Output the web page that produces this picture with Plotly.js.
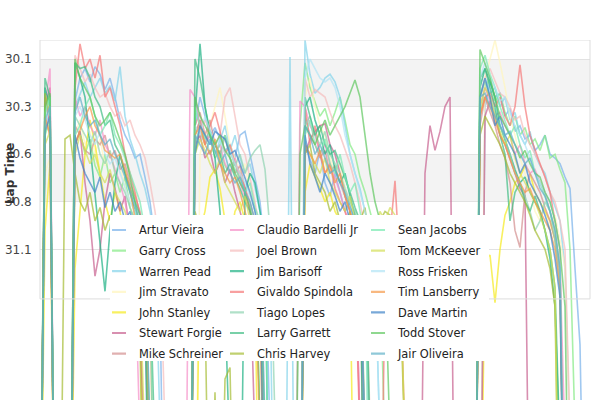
<!DOCTYPE html>
<html>
<head>
<meta charset="utf-8">
<script src="https://cdn.plot.ly/plotly-3.0.1.min.js"></script>
<style>
  html, body { margin: 0; padding: 0; background: #fff; }
  #plotly { width: 600px; height: 400px; }
</style>
</head>
<body>
<div id="plotly"></div>
<script>
// lap index along the x axis
var laps = [0,1,2,3,4,5,6,7,8,9,10,11,12,13,14,15,16,17,18,19,20,21,22,23,24,25,26,27,28,29,
  30,31,32,33,34,35,36,37,38,39,40,41,42,43,44,45,46,47,48,49,50,51,52,53,54,55,56,57,58,59,
  60,61,62,63,64,65,66,67,68,69,70,71,72,73,74,75,76,77,78,79,80,81,82,83,84,85,86,87,88,89,
  90,91,92,93,94,95,96,97,98,99,100,101,102,103,104,105,106,107,108,109];

// lap times per driver (slow laps are far below the visible range)
var arturVieira = [33,30.45,30.38,33,33,33,33,30.32,30.2,30.15,
  30.22,30.14,30.18,30.26,30.2,30.3,30.42,30.5,30.55,30.62,
  30.6,30.72,30.85,31.05,31.4,33,33,33,33,33,
  33,30.45,30.3,30.4,30.5,30.46,30.52,30.58,30.55,30.62,
  30.5,30.48,30.6,30.72,30.85,31.1,33,33,33,33,
  33,33,33,30.55,30.62,30.7,30.58,30.75,30.82,30.7,
  30.8,30.9,30.85,30.98,31.1,31.3,33,33,33,33,
  33,33,33,33,33,33,33,33,33,33,
  33,33,33,33,33,33,33,33,33,30.35,
  30.22,30.3,30.28,30.4,30.36,30.48,30.45,30.52,30.5,30.58,
  30.55,30.5,30.6,30.62,30.65,30.72,30.78,31.2,31.6,33];
var garryCross = [33,30.5,30.42,33,33,33,33,30.55,30.48,30.6,
  30.52,30.66,30.72,30.6,30.75,30.7,30.8,30.72,30.88,30.95,
  31.1,31.5,33,33,33,33,33,33,33,33,
  33,30.6,30.48,30.55,30.5,30.62,30.58,30.66,30.7,30.64,
  30.75,30.8,30.9,31.05,33,33,33,33,33,33,
  33,33,30.45,30.12,30.25,30.32,30.4,30.36,30.45,30.38,
  30.3,30.42,30.55,30.6,30.72,30.8,30.9,31.0,31.25,33,
  33,33,33,33,33,33,33,33,33,33,
  33,33,33,33,33,33,33,33,30.4,30.25,
  30.2,30.32,30.28,30.38,30.45,30.4,30.5,30.46,30.55,30.52,
  30.58,30.5,30.62,30.6,30.68,30.75,31.1,33,33,33];
var warrenPead = [33,30.3,30.42,33,33,33,33,30.35,30.28,30.22,
  30.3,30.25,30.2,30.28,30.24,30.32,30.14,30.4,30.52,30.6,
  30.7,30.78,30.9,31.05,33,33,33,33,33,33,
  33,30.5,30.42,30.55,30.48,30.6,30.52,30.45,30.58,30.5,
  30.62,30.7,30.65,30.78,30.9,31.0,31.3,33,33,33,
  30.09,33,33,30.0,30.18,30.28,30.25,30.2,30.18,30.22,
  30.3,30.45,30.6,30.7,30.78,30.9,31.0,31.2,33,33,
  33,33,33,33,33,33,33,33,33,33,
  33,33,33,33,33,33,33,33,30.3,30.2,
  30.28,30.25,30.35,30.3,30.42,30.38,30.5,30.55,30.48,30.6,
  30.66,30.7,30.8,30.88,30.95,31.2,33,33,33,33];
var jimStravato = [33,30.7,30.62,33,33,33,33,30.5,30.42,30.55,
  30.48,30.6,30.52,30.66,30.58,30.7,30.65,30.78,30.85,30.8,
  30.92,31.1,31.4,33,33,33,33,33,33,33,
  33,33,30.6,30.5,30.45,30.35,30.25,30.4,30.55,30.62,
  30.7,30.65,30.8,30.9,31.05,33,33,33,33,33,
  33,33,33,30.3,30.2,30.35,30.45,30.5,30.62,30.7,
  30.65,30.78,30.85,30.92,31.05,33,33,33,33,33,
  33,33,33,33,33,33,33,33,33,33,
  33,33,33,33,33,33,33,33,33,30.2,
  30.1,30.0,30.12,30.25,30.4,30.5,30.62,30.7,30.78,30.9,
  30.95,30.88,31.0,30.92,31.05,31.2,33,33,33,33];
var johnStanley = [33,31.0,30.65,33,33,33,33,31.2,30.9,30.6,
  30.42,30.55,30.7,30.85,30.95,30.8,30.9,31.05,30.98,31.15,
  31.3,33,33,33,33,33,33,33,33,33,
  33,33,31.0,30.9,30.72,30.68,30.78,30.95,31.05,30.9,
  30.85,30.95,31.1,31.3,33,33,33,33,33,33,
  33,33,33,30.8,30.65,30.72,30.78,30.85,30.8,30.9,
  30.95,31.05,31.2,33,33,33,33,33,33,33,
  33,33,33,33,33,33,33,33,33,33,
  33,33,33,33,33,33,33,33,33,31.15,
  31.13,31.38,31.1,30.92,30.85,30.75,30.72,30.66,30.7,30.8,
  30.85,30.9,30.95,31.05,31.2,33,33,33,33,33];
var stewartForgie = [33,30.35,30.25,33,33,33,33,30.55,30.48,30.75,
  30.95,31.24,31.1,30.85,30.7,30.78,30.9,30.82,31.0,31.2,
  31.5,33,33,33,33,33,33,33,33,33,
  33,30.55,30.5,30.62,30.58,30.7,30.64,30.75,30.68,30.8,
  30.9,31.0,31.2,33,33,33,33,33,33,33,
  33,33,33,30.6,30.52,30.48,30.45,30.44,30.55,30.6,
  30.7,30.82,30.9,31.05,33,33,33,33,33,33,
  33,33,33,33,33,33,33,30.7,30.45,30.58,
  30.48,30.35,30.3,33,33,33,33,33,33,30.4,
  30.32,30.4,30.5,30.55,30.62,30.7,30.78,30.82,33,33,
  33,33,33,33,33,33,33,33,33,33];
var mikeSchreiner = [33,30.4,30.5,33,33,33,33,30.45,30.5,30.58,
  30.6,30.52,30.55,30.5,30.62,30.58,30.68,30.65,30.75,30.82,
  30.9,31.05,31.3,33,33,33,33,33,33,33,
  33,30.45,30.38,30.5,30.42,30.55,30.6,30.5,30.62,30.7,
  30.66,30.78,30.85,30.95,31.1,33,33,33,33,33,
  33,33,33,30.4,30.5,30.55,30.62,30.58,30.7,30.66,
  30.75,30.82,30.9,31.0,31.15,33,33,33,33,33,
  33,33,33,33,33,33,33,33,33,33,
  33,33,33,33,33,33,33,33,30.45,30.3,
  30.38,30.45,30.55,30.62,30.75,31.0,31.09,30.8,30.7,30.75,
  30.8,30.88,30.95,31.05,31.25,33,33,33,33,33];
var claudioBardelli = [33,30.35,30.15,33,33,33,33,30.3,30.4,30.35,
  30.45,30.5,30.42,30.55,30.6,30.68,30.75,30.85,31.0,31.2,
  33,33,33,33,33,33,33,33,33,33,
  30.26,30.3,30.45,30.55,30.5,30.6,30.55,30.65,30.7,30.62,
  30.75,30.82,30.9,31.0,31.2,33,33,33,33,33,
  33,33,30.32,30.35,30.45,30.5,30.6,30.55,30.65,30.72,
  30.8,30.9,30.95,31.1,33,33,33,33,33,33,
  33,33,33,33,33,33,33,33,33,33,
  33,33,33,33,33,33,33,33,30.35,30.25,
  30.32,30.4,30.38,30.45,30.5,30.6,30.55,30.65,30.7,30.68,
  30.75,30.8,30.9,31.0,31.2,33,33,33,33,33];
var joelBrown = [33,30.3,30.4,33,33,33,33,30.08,30.15,30.22,
  30.18,30.25,30.3,30.28,30.35,30.4,30.38,30.45,30.42,30.5,
  30.55,30.62,30.75,30.9,31.1,33,33,33,33,33,
  33,30.45,30.5,30.42,30.48,30.55,30.5,30.3,30.25,30.4,
  30.55,30.6,30.72,30.85,31.0,33,33,33,33,33,
  33,33,33,30.2,30.3,30.26,30.28,30.3,30.38,30.45,
  30.5,30.58,30.65,30.75,30.85,31.0,33,33,33,33,
  33,33,33,33,33,33,33,33,33,33,
  33,33,33,33,33,33,33,33,30.3,30.2,
  30.15,30.22,30.28,30.3,30.35,30.42,30.4,30.5,30.55,30.6,
  30.65,30.72,30.8,30.85,30.95,31.1,33,33,33,33];
var jimBarisoff = [33,30.25,30.35,33,33,33,33,30.12,30.2,30.3,
  30.55,30.8,31.05,31.32,31.0,30.75,30.6,30.7,30.8,30.9,
  31.0,31.2,33,33,33,33,33,33,33,33,
  33,30.4,30.02,30.35,30.5,30.62,30.9,31.4,33,33,
  33,30.8,30.7,30.75,30.9,31.1,33,33,33,33,
  33,33,33,30.35,30.3,30.42,30.5,30.6,30.55,30.68,
  30.75,30.7,30.82,30.92,31.05,33,33,33,33,33,
  33,33,33,33,33,33,33,33,33,33,
  33,33,33,33,33,33,33,33,30.25,30.15,
  30.22,30.3,30.45,30.52,30.6,30.68,30.75,30.72,30.8,30.85,
  30.9,31.0,31.15,31.4,33,33,33,33,33,33];
var givaldoSpindola = [33,30.3,30.45,33,33,33,33,30.25,30.02,30.15,
  30.1,30.2,30.08,30.3,30.25,30.35,30.45,30.6,30.7,30.8,
  30.92,31.1,33,33,33,33,33,33,33,33,
  33,30.5,30.42,30.55,30.45,30.38,30.48,30.6,30.55,30.65,
  30.7,30.78,30.9,31.05,31.3,33,33,33,33,33,
  33,33,33,30.35,30.55,30.45,30.6,30.7,30.65,30.78,
  30.85,30.9,31.0,31.2,33,33,33,33,33,31.3,
  31.0,30.74,31.2,33,33,33,33,33,33,33,
  33,33,33,33,33,33,33,33,30.4,30.3,
  30.28,30.35,30.3,30.4,30.45,30.35,30.13,30.35,30.5,30.58,
  30.65,30.72,30.8,30.95,31.1,33,33,33,33,33];
var tiagoLopes = [33,30.4,30.3,33,33,33,33,30.4,30.45,30.5,
  30.55,30.48,30.6,30.65,30.58,30.7,30.75,30.8,30.88,30.95,
  31.05,31.2,33,33,33,33,33,33,33,33,
  33,30.55,30.45,30.5,30.6,30.55,30.62,30.5,30.58,30.66,
  30.6,30.7,30.62,30.58,30.55,30.68,31.0,33,33,33,
  33,33,33,30.45,30.4,30.5,30.55,30.48,30.6,30.65,
  30.7,30.78,30.85,30.9,31.0,31.2,33,33,33,33,
  33,33,33,33,33,33,33,33,33,33,
  33,33,33,33,33,33,33,33,30.3,30.22,
  30.3,30.38,30.45,30.52,30.6,30.7,30.75,30.82,30.9,31.0,
  30.95,30.85,30.9,31.05,31.3,33,33,33,33,33];
var larryGarrett = [33,30.2,30.3,33,33,33,33,30.12,30.15,30.14,
  30.2,30.3,30.35,30.45,30.42,30.55,30.6,30.7,30.78,30.85,
  30.92,31.05,31.3,33,33,33,33,33,33,33,
  33,30.1,30.2,30.35,30.48,30.55,30.6,30.7,30.65,30.72,
  30.78,30.85,30.9,31.05,33,33,33,33,33,33,
  33,33,33,30.3,30.4,30.5,30.45,30.55,30.6,30.58,
  30.65,30.72,30.8,30.88,30.95,31.1,33,33,33,33,
  33,33,33,33,33,33,33,33,33,33,
  33,33,33,33,33,33,33,33,30.2,30.15,
  30.25,30.35,30.5,30.6,30.95,30.8,30.75,30.85,30.9,30.82,
  30.9,31.0,31.1,31.3,33,33,33,33,33,33];
var chrisHarvey = [33,30.28,30.4,33,33,30.52,30.5,30.7,30.85,30.9,
  30.8,30.95,30.88,31.0,30.92,31.05,30.98,31.1,31.2,31.35,
  31.6,33,31.9,33,33,33,33,33,33,33,
  33,30.9,31.0,31.4,33,31.85,33,31.78,31.72,33,
  33,33,33,33,33,33,33,33,33,33,
  33,33,33,30.6,30.55,30.7,30.75,30.8,30.9,30.85,
  30.95,31.0,30.9,31.05,30.95,30.88,31.1,31.0,30.95,30.9,
  30.92,30.95,31.3,33,33,33,33,33,33,33,
  33,33,33,33,33,33,33,33,30.5,30.4,
  30.45,30.5,30.55,30.62,30.7,30.75,30.8,30.85,30.92,31.0,
  31.05,31.1,31.2,31.4,33,33,33,33,33,33];
var seanJacobs = [33,30.38,30.3,33,33,33,33,30.5,30.45,30.35,
  30.3,30.4,30.5,30.45,30.38,30.5,30.55,30.62,30.7,30.78,
  30.85,31.0,31.2,33,33,33,33,33,33,33,
  33,30.35,30.45,30.52,30.48,30.6,30.55,30.5,30.62,30.68,
  30.72,30.8,30.75,30.88,30.95,31.1,33,33,33,33,
  33,33,33,30.5,30.42,30.55,30.6,30.52,30.65,30.7,
  30.6,30.72,30.8,30.75,30.9,31.05,33,33,33,33,
  33,33,33,33,33,33,33,33,33,33,
  33,33,33,33,33,33,33,33,30.15,30.08,
  30.18,30.25,30.35,30.42,30.5,30.45,30.55,30.62,30.58,30.7,
  30.75,30.82,30.9,31.0,31.2,33,33,33,33,33];
var tomMcKeever = [33,30.55,30.48,33,33,33,33,30.6,30.5,30.58,
  30.65,30.6,30.7,30.75,30.68,30.8,30.85,30.9,31.0,31.1,
  31.3,33,33,33,33,33,33,33,33,33,
  33,30.6,30.52,30.58,30.65,30.7,30.62,30.75,30.8,30.85,
  30.9,30.82,30.95,31.05,31.25,33,33,33,33,33,
  33,33,33,30.55,30.6,30.65,30.7,30.62,30.75,30.8,
  30.85,30.9,30.82,30.95,31.0,30.92,30.98,31.05,30.9,30.95,
  30.88,30.92,31.2,33,33,33,33,33,33,33,
  33,33,33,33,33,33,33,33,30.35,30.25,
  30.3,30.4,30.48,30.55,30.5,30.62,30.7,30.75,30.8,30.85,
  30.92,31.0,31.1,31.3,33,33,33,33,33,33];
var rossFrisken = [33,30.45,30.35,33,33,33,33,30.4,30.35,30.42,
  30.5,30.55,30.48,30.6,30.65,30.62,30.7,30.78,30.85,30.9,
  31.0,31.15,33,33,33,33,33,33,33,33,
  33,30.45,30.5,30.4,30.48,30.55,30.52,30.6,30.58,30.65,
  30.7,30.75,30.82,30.9,31.05,33,33,33,33,33,
  33,33,33,30.2,30.1,30.15,30.2,30.22,30.2,30.25,
  30.35,30.5,30.6,30.7,30.8,30.9,31.0,31.2,33,33,
  33,33,33,33,33,33,33,33,33,33,
  33,33,33,33,33,33,33,33,30.2,30.12,
  30.2,30.25,30.32,30.3,30.38,30.45,30.5,30.55,30.62,30.7,
  30.75,30.8,30.85,30.95,31.1,33,33,33,33,33];
var timLansberry = [33,30.4,30.5,33,33,33,33,30.55,30.48,30.4,
  30.35,30.45,30.5,30.58,30.6,30.62,30.6,30.68,30.78,30.95,
  31.1,31.3,33,33,33,33,33,33,33,33,
  33,30.5,30.45,30.55,30.6,30.52,30.65,30.7,30.75,30.72,
  30.8,30.9,31.0,31.2,33,33,33,33,33,33,
  33,33,33,30.55,30.6,30.65,30.58,30.7,30.66,30.75,
  30.7,30.82,30.9,31.0,31.15,33,33,33,33,33,
  33,33,33,33,33,33,33,33,33,33,
  33,33,33,33,33,33,33,33,30.4,30.3,
  30.35,30.42,30.5,30.55,30.62,30.7,30.75,30.8,30.78,30.85,
  30.9,30.95,31.0,31.1,31.3,33,33,33,33,33];
var daveMartin = [33,30.48,30.4,33,33,33,33,30.5,30.62,30.7,
  30.75,30.8,30.72,30.88,30.8,30.9,30.85,30.95,30.9,31.0,
  31.15,31.4,33,33,33,33,33,33,33,33,
  33,30.6,30.45,30.5,30.55,30.48,30.5,30.52,30.6,30.58,
  30.65,30.72,30.8,30.9,31.05,33,33,33,33,33,
  33,33,33,30.5,30.65,30.72,30.8,30.7,30.75,30.82,
  30.9,30.85,30.95,31.05,31.2,33,33,33,33,33,
  33,33,33,33,33,33,33,33,33,33,
  33,33,33,33,33,33,33,33,30.3,30.2,
  30.3,30.45,30.4,30.5,30.55,30.6,30.7,30.65,30.75,30.8,
  30.85,30.92,31.0,31.15,31.35,33,33,33,33,33];
var toddStover = [33,30.35,30.28,33,33,33,33,30.1,30.2,30.25,
  30.3,30.4,30.45,30.42,30.38,30.45,30.52,30.6,30.72,30.85,
  31.0,31.2,33,33,33,33,33,33,33,33,
  33,30.3,30.4,30.45,30.5,30.55,30.5,30.58,30.62,30.7,
  30.75,30.8,30.88,31.0,31.2,33,33,33,33,33,
  33,33,30.6,30.45,30.5,30.55,30.48,30.42,30.5,30.45,
  30.4,30.35,30.28,30.21,30.3,30.5,30.7,30.85,30.95,31.2,
  33,33,33,33,33,33,33,33,33,33,
  33,33,33,33,33,33,33,33,30.05,30.12,
  30.2,30.3,30.4,30.45,30.5,30.55,30.62,30.58,30.65,30.7,
  30.72,30.8,30.85,30.95,31.1,31.4,33,33,33,33];
var jairOliveira = [33,30.42,30.35,33,33,33,33,30.38,30.3,30.4,
  30.45,30.42,30.5,30.55,30.52,30.6,30.65,30.72,30.8,30.88,
  30.95,31.1,33,33,33,33,33,33,33,33,
  33,30.5,30.55,30.6,30.52,30.58,30.65,30.6,30.7,30.75,
  30.72,30.8,30.85,30.95,31.1,33,33,33,33,33,
  33,33,33,30.45,30.5,30.6,30.55,30.62,30.7,30.68,
  30.75,30.8,30.88,30.95,31.1,33,33,33,33,33,
  33,33,33,33,33,33,33,33,33,33,
  33,33,33,33,33,33,33,33,30.3,30.28,
  30.35,30.4,30.45,30.5,30.48,30.55,30.6,30.65,30.62,30.7,
  30.78,30.82,30.9,31.0,31.2,33,33,33,33,33];

var driverNames = ['Artur Vieira', 'Garry Cross', 'Warren Pead', 'Jim Stravato', 'John Stanley',
  'Stewart Forgie', 'Mike Schreiner', 'Claudio Bardelli Jr', 'Joel Brown', 'Jim Barisoff',
  'Givaldo Spindola', 'Tiago Lopes', 'Larry Garrett', 'Chris Harvey', 'Sean Jacobs',
  'Tom McKeever', 'Ross Frisken', 'Tim Lansberry', 'Dave Martin', 'Todd Stover', 'Jair Oliveira'];
var driverTimes = [arturVieira, garryCross, warrenPead, jimStravato, johnStanley,
  stewartForgie, mikeSchreiner, claudioBardelli, joelBrown, jimBarisoff,
  givaldoSpindola, tiagoLopes, larryGarrett, chrisHarvey, seanJacobs,
  tomMcKeever, rossFrisken, timLansberry, daveMartin, toddStover, jairOliveira];
var driverColors = ['rgba(119,176,234,0.7)', 'rgba(131,234,131,0.7)', 'rgba(131,211,234,0.7)',
  'rgba(255,245,188,0.7)', 'rgba(245,234,28,0.7)', 'rgba(199,96,142,0.7)', 'rgba(211,142,142,0.7)',
  'rgba(245,142,199,0.7)', 'rgba(245,188,188,0.7)', 'rgba(28,176,131,0.7)', 'rgba(245,119,119,0.7)',
  'rgba(142,211,176,0.7)', 'rgba(62,188,131,0.7)', 'rgba(165,188,51,0.7)', 'rgba(119,234,176,0.7)',
  'rgba(211,222,85,0.7)', 'rgba(176,228,245,0.7)', 'rgba(245,154,74,0.7)', 'rgba(62,131,199,0.7)',
  'rgba(96,199,96,0.7)', 'rgba(96,176,199,0.7)'];

// y tick positions and the labels shown for them
var yTickVals = [30.1, 30.35, 30.6, 30.85, 31.1];
var yTickText = ['30.1', '30.3', '30.6', '30.8', '31.1'];

var font = 'DejaVu Sans, sans-serif';
// visible frame of the chart; slow laps run on below it
var yTop = 30.0;
var yFrameBottom = 31.36;
var yPageBottom = 31.891;
var frameColor = '#dddddd';

var traces = [];

// the lap time lines
for (var i = 0; i < driverNames.length; i++) {
  traces.push({
    x: laps,
    y: driverTimes[i],
    type: 'scatter',
    mode: 'lines',
    name: driverNames[i],
    legendgroup: driverNames[i],
    showlegend: false,
    line: { color: driverColors[i], width: 1.6 },
    hoverinfo: 'x+y+name'
  });
}

// short legend keys, seven per column
var legendIds = ['legend', 'legend2', 'legend3'];
for (var j = 0; j < driverNames.length; j++) {
  traces.push({
    x: [null],
    y: [null],
    type: 'scatter',
    mode: 'markers',
    name: driverNames[j],
    legendgroup: driverNames[j],
    legend: legendIds[Math.floor(j / 7)],
    marker: { symbol: 'line-ew-open', size: 10, color: driverColors[j],
      line: { color: driverColors[j], width: 2.2 } }
  });
}

function legendAt(x) {
  return {
    x: x, y: 0.5125, xanchor: 'left', yanchor: 'top',
    bgcolor: 'rgba(0,0,0,0)', borderwidth: 0,
    tracegroupgap: 1.6,
    font: { family: font, size: 11.4, color: '#222' }
  };
}

function frameLine(x0, x1, y0, y1) {
  return { type: 'line', xref: 'paper', yref: 'y', x0: x0, x1: x1, y0: y0, y1: y1,
    line: { color: frameColor, width: 1 }, layer: 'above' };
}

var layout = {
  width: 600,
  height: 400,
  margin: { l: 40, r: 10, t: 40, b: 0 },
  paper_bgcolor: '#fff',
  plot_bgcolor: '#fff',
  font: { family: font, size: 12, color: '#444' },
  showlegend: true,
  legend: legendAt(0.1073),
  legend2: legendAt(0.3218),
  legend3: legendAt(0.5782),
  xaxis: {
    range: [0, 110],
    showticklabels: false,
    showgrid: false,
    zeroline: false,
    showline: false
  },
  yaxis: {
    range: [yPageBottom, yTop],
    tickvals: yTickVals,
    ticktext: yTickText,
    ticks: 'outside',
    ticklen: 5,
    tickcolor: 'rgba(0,0,0,0)',
    tickfont: { family: font, size: 12, color: '#444' },
    gridcolor: '#e2e2e2',
    zeroline: false,
    showline: false
  },
  annotations: [
    { text: '<b>Lap Time</b>', textangle: -90, xref: 'paper', yref: 'y',
      x: -0.0545, y: 30.704, xanchor: 'center', yanchor: 'middle', showarrow: false,
      font: { family: font, size: 12, color: '#333' } }
  ],
  shapes: [
    { type: 'rect', xref: 'paper', yref: 'y', x0: 0, x1: 1, y0: 30.1, y1: 30.35,
      fillcolor: '#f3f3f3', line: { width: 0 }, layer: 'below' },
    { type: 'rect', xref: 'paper', yref: 'y', x0: 0, x1: 1, y0: 30.6, y1: 30.85,
      fillcolor: '#f3f3f3', line: { width: 0 }, layer: 'below' },
    frameLine(0, 1, yTop, yTop),
    frameLine(0, 1, yFrameBottom, yFrameBottom),
    frameLine(0, 0, yTop, yFrameBottom),
    frameLine(1, 1, yTop, yFrameBottom),
    // white block behind the three legend columns
    { type: 'rect', xref: 'paper', yref: 'paper', x0: 0.1273, x1: 0.8164, y0: 0.1083, y1: 0.5139,
      fillcolor: '#ffffff', line: { width: 0 }, layer: 'above' }
  ]
};

Plotly.newPlot('plotly', traces, layout, { displayModeBar: false, responsive: false });
</script>
</body>
</html>
